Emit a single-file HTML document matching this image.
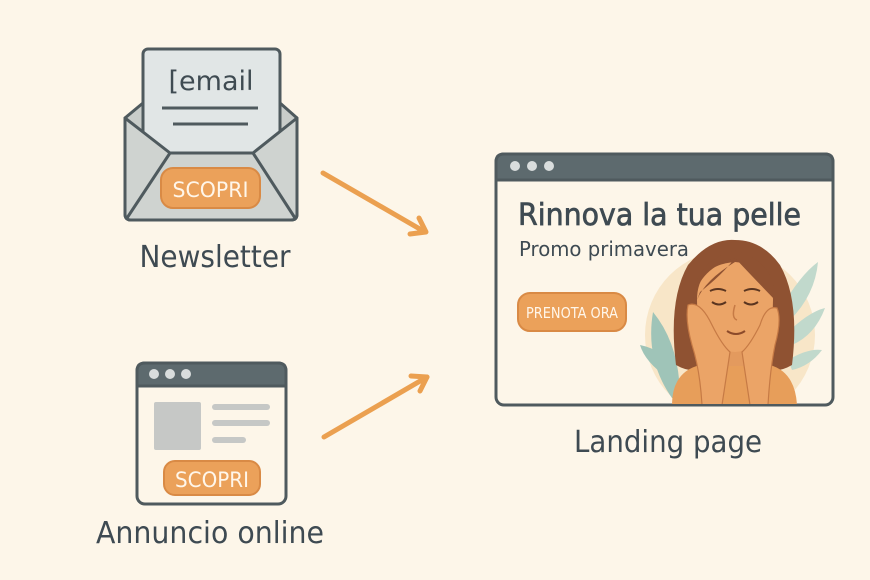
<!DOCTYPE html>
<html><head><meta charset="utf-8"><style>
html,body{margin:0;padding:0;background:#fdf6e9;}
svg{display:block;}
text{font-family:"DejaVu Sans","Liberation Sans",sans-serif;}
</style></head><body>
<svg width="870" height="580" viewBox="0 0 870 580" xmlns="http://www.w3.org/2000/svg">
<rect width="870" height="580" fill="#fdf6e9"/>

<!-- Envelope -->
<path d="M125 118 L143 103 L280 103 L297 118 L297 214 Q297 220 291 220 L131 220 Q125 220 125 214 Z" fill="#c9cdca" stroke="#4f5a5e" stroke-width="3" stroke-linejoin="round"/>
<rect x="143" y="49" width="137" height="110" rx="5" fill="#e1e6e6" stroke="#4f5a5e" stroke-width="3"/>
<text x="211" y="90" font-size="27" fill="#3f4b52" text-anchor="middle">[email</text>
<line x1="162" y1="108" x2="258" y2="108" stroke="#4f5a5e" stroke-width="3"/>
<line x1="173" y1="124" x2="248" y2="124" stroke="#4f5a5e" stroke-width="3"/>
<path d="M125 118 L170 153 L253 153 L297 118 L297 214 Q297 220 291 220 L131 220 Q125 220 125 214 Z" fill="#cfd3d0" stroke="#4f5a5e" stroke-width="3" stroke-linejoin="round"/>
<line x1="127" y1="218" x2="170" y2="153" stroke="#4f5a5e" stroke-width="3"/>
<line x1="295" y1="218" x2="253" y2="153" stroke="#4f5a5e" stroke-width="3"/>
<rect x="161" y="168" width="99" height="40" rx="12" fill="#eba15a" stroke="#d98a45" stroke-width="2"/>
<text x="210.5" y="197" font-size="21" fill="#fff6ea" text-anchor="middle" textLength="76" lengthAdjust="spacingAndGlyphs">SCOPRI</text>
<text x="215" y="267" font-size="30" fill="#3e4a52" text-anchor="middle" textLength="151" lengthAdjust="spacingAndGlyphs">Newsletter</text>

<!-- Ad window -->
<rect x="137" y="363" width="149" height="141" rx="8" fill="#fdf6e9" stroke="#4f5a5e" stroke-width="3"/>
<path d="M137 386 L137 371 Q137 363 145 363 L278 363 Q286 363 286 371 L286 386 Z" fill="#5d6a6e" stroke="#4f5a5e" stroke-width="3"/>
<circle cx="154" cy="374" r="5" fill="#d9dddd"/><circle cx="170" cy="374" r="5" fill="#d9dddd"/><circle cx="186" cy="374" r="5" fill="#d9dddd"/>
<rect x="154" y="402" width="47" height="48" rx="2" fill="#c6c8c6"/>
<rect x="212" y="404" width="58" height="6" rx="3" fill="#c6c8c6"/>
<rect x="212" y="420" width="58" height="6" rx="3" fill="#c6c8c6"/>
<rect x="212" y="437" width="34" height="6" rx="3" fill="#c6c8c6"/>
<rect x="164" y="461" width="96" height="34" rx="11" fill="#eba15a" stroke="#d98a45" stroke-width="2"/>
<text x="212" y="487" font-size="21" fill="#fff6ea" text-anchor="middle" textLength="74" lengthAdjust="spacingAndGlyphs">SCOPRI</text>
<text x="210" y="543" font-size="30" fill="#3e4a52" text-anchor="middle" textLength="228" lengthAdjust="spacingAndGlyphs">Annuncio online</text>

<!-- Arrows -->
<g stroke="#eba050" stroke-width="5" stroke-linecap="round" stroke-linejoin="round" fill="none">
<line x1="323" y1="173" x2="425" y2="232"/>
<polyline points="419,218 426,232 410,234"/>
<line x1="324" y1="437" x2="427" y2="377"/>
<polyline points="411,376 427,377 420,391"/>
</g>

<!-- Landing window -->
<rect x="496" y="154" width="337" height="251" rx="8" fill="#fdf6e9" stroke="#4f5a5e" stroke-width="3"/>
<clipPath id="cw"><rect x="497" y="180" width="335" height="224" rx="7"/></clipPath>
<g clip-path="url(#cw)">
<circle cx="730" cy="335" r="85" fill="#f8e6c8"/>
<path d="M672 398 Q645 360 653 312 Q680 345 680 398Z" fill="#9fc4b8"/>
<path d="M668 378 Q645 362 640 345 Q665 350 675 372Z" fill="#9fc4b8"/>
<path d="M780 310 Q800 275 818 262 Q815 295 790 320Z" fill="#c1d9cc"/>
<path d="M785 335 Q808 312 825 308 Q815 335 792 345Z" fill="#c1d9cc"/>
<path d="M788 360 Q808 348 822 350 Q810 366 792 370Z" fill="#c1d9cc"/>
<!-- hair -->
<path d="M676 365 Q668 300 688 265 Q710 238 735 240 Q762 240 780 265 Q800 300 792 365 Q780 372 770 370 L700 370 Q688 372 676 365Z" fill="#8f5232"/>
<!-- body -->
<path d="M672 405 Q672 372 700 365 L715 362 L755 362 L770 365 Q795 372 797 405Z" fill="#e79e5a"/>
<rect x="722" y="340" width="26" height="26" fill="#e39a5e"/>
<!-- face -->
<path d="M697 300 Q697 350 735 352 Q773 350 773 300 Q773 265 735 262 Q697 265 697 300Z" fill="#eba467"/>
<path d="M693 300 Q700 268 735 258 Q748 272 775 300 Q776 262 735 250 Q694 262 693 300Z" fill="#8f5232"/>
<path d="M735 258 Q722 275 700 292 L697 300 Q705 280 735 262Z" fill="#8f5232"/>
<path d="M710 291 Q718 287 726 291" stroke="#5a3520" stroke-width="2" fill="none"/>
<path d="M744 291 Q752 287 760 291" stroke="#5a3520" stroke-width="2" fill="none"/>
<path d="M712 302 Q719 307 726 302" stroke="#5a3520" stroke-width="2" fill="none"/>
<path d="M744 302 Q751 307 758 302" stroke="#5a3520" stroke-width="2" fill="none"/>
<path d="M735 305 Q731 318 737 320" stroke="#c67a45" stroke-width="1.5" fill="none"/>
<path d="M727 331 Q736 337 745 331" stroke="#8b4a2a" stroke-width="2" fill="none"/>
<!-- hands -->
<path d="M688 305 Q700 300 712 325 Q722 345 730 352 L722 405 L702 405 Q700 370 692 345 Q685 320 688 305Z" fill="#eba467" stroke="#c67a45" stroke-width="1.2"/>
<path d="M777 308 Q766 305 760 325 Q750 345 742 352 L750 405 L768 405 Q770 370 775 345 Q782 320 777 308Z" fill="#eba467" stroke="#c67a45" stroke-width="1.2"/>
</g>
<path d="M496 180 L496 162 Q496 154 504 154 L825 154 Q833 154 833 162 L833 180 Z" fill="#5d6a6e" stroke="#4f5a5e" stroke-width="3"/>
<circle cx="515" cy="166" r="5" fill="#d9dddd"/><circle cx="532" cy="166" r="5" fill="#d9dddd"/><circle cx="549" cy="166" r="5" fill="#d9dddd"/>
<text x="518" y="225" font-size="30" fill="#3e4a52" stroke="#3e4a52" stroke-width="0.7" textLength="283" lengthAdjust="spacingAndGlyphs">Rinnova la tua pelle</text>
<text x="519" y="256" font-size="20" fill="#3e4a52" textLength="170" lengthAdjust="spacingAndGlyphs">Promo primavera</text>
<rect x="518" y="293" width="108" height="38" rx="12" fill="#eba15a" stroke="#d98a45" stroke-width="2"/>
<text x="572" y="318" font-size="15" fill="#fff6ea" text-anchor="middle" textLength="92" lengthAdjust="spacingAndGlyphs">PRENOTA ORA</text>
<text x="668" y="452" font-size="30" fill="#3e4a52" text-anchor="middle" textLength="188" lengthAdjust="spacingAndGlyphs">Landing page</text>
</svg>
</body></html>
